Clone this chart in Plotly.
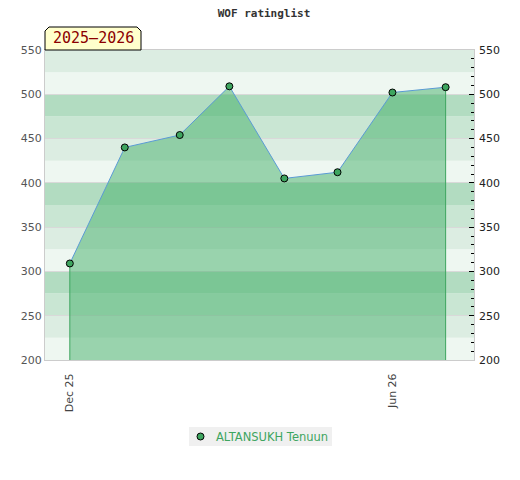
import plotly.graph_objects as go

title = "WOF ratinglist"
season = "2025\u20132026"
player = "ALTANSUKH Tenuun"
dates = ["2025-12-01", "2026-01-01", "2026-02-01", "2026-03-01",
         "2026-04-01", "2026-05-01", "2026-06-01", "2026-07-01"]
ratings = [309, 440, 454, 509, 405, 412, 502, 508]
tick_dates = ["2025-12-01", "2026-06-01"]
tick_labels = ["Dec 25", "Jun 26"]
y_min, y_max = 200, 550
x_range = ["2025-11-17", "2026-07-17"]

band_colors = ["#eef7f1", "#dcede2", "#c9e6d3", "#b2dcc1"]
green = "#3ea55f"

fig = go.Figure()

# filled area
fig.add_trace(go.Scatter(x=dates, y=ratings, fill="tozeroy",
                         fillcolor="rgba(68,175,105,0.5)",
                         line=dict(width=0), mode="lines",
                         showlegend=False, hoverinfo="skip"))
# vertical edges
fig.add_trace(go.Scatter(x=[dates[0], dates[0], None, dates[-1], dates[-1]],
                         y=[y_min, ratings[0], None, y_min, ratings[-1]],
                         mode="lines", line=dict(color=green, width=1),
                         showlegend=False, hoverinfo="skip"))
# line
fig.add_trace(go.Scatter(x=dates, y=ratings, mode="lines",
                         line=dict(color="#5b9bd5", width=1),
                         showlegend=False, hoverinfo="skip"))
# markers
fig.add_trace(go.Scatter(x=dates, y=ratings, mode="markers", name=player,
                         showlegend=False,
                         marker=dict(color=green, size=7,
                                     line=dict(color="black", width=1))))
# invisible trace for right axis
fig.add_trace(go.Scatter(x=dates, y=ratings, yaxis="y2", mode="lines",
                         line=dict(width=0), showlegend=False, hoverinfo="skip",
                         opacity=0))

shapes = []
for i, lo in enumerate(range(y_min, y_max, 25)):
    shapes.append(dict(type="rect", xref="paper", yref="y", x0=0, x1=1,
                       y0=lo, y1=lo + 25, fillcolor=band_colors[i % 4],
                       line=dict(width=0), layer="below"))
# season label box
shapes.append(dict(type="path", xref="paper", yref="paper",
                   xsizemode="pixel", ysizemode="pixel", xanchor=0, yanchor=1,
                   path="M0,0 L0,19 L4,23 L92,23 L96,19 L96,0 Z",
                   fillcolor="#ffffcc", line=dict(color="black", width=1),
                   layer="above"))
# legend box and symbol
shapes.append(dict(type="rect", xref="paper", yref="paper",
                   xsizemode="pixel", ysizemode="pixel", xanchor=0, yanchor=0,
                   x0=144, x1=287, y0=-86, y1=-67, fillcolor="#f0f0f0",
                   line=dict(width=0), layer="below"))
shapes.append(dict(type="circle", xref="paper", yref="paper",
                   xsizemode="pixel", ysizemode="pixel", xanchor=0, yanchor=0,
                   x0=152, x1=159, y0=-80, y1=-73, fillcolor=green,
                   line=dict(color="black", width=1), layer="above"))

fig.update_layout(
    width=512, height=472,
    margin=dict(l=37, r=46, t=42, b=120, autoexpand=False),
    paper_bgcolor="white", plot_bgcolor="white",
    title=dict(text="<b>" + title + "</b>", x=0.5, xanchor="center",
               y=1 - 5 / 472, yanchor="middle",
               font=dict(family="DejaVu Sans Mono", size=11, color="#333")),
    shapes=shapes,
    annotations=[
        dict(text=season, xref="paper", yref="paper",
             x=48 / 429, y=1 + 12 / 310, xanchor="center",
             yanchor="middle", showarrow=False,
             font=dict(family="DejaVu Sans Mono", size=15, color="#8b0000")),
        dict(text=player, xref="paper", yref="paper",
             x=169 / 429, y=-76.5 / 310, xanchor="left", yanchor="middle",
             showarrow=False,
             font=dict(family="DejaVu Sans", size=11.5, color=green)),
    ],
    xaxis=dict(type="date", range=x_range, tickvals=tick_dates,
               ticktext=tick_labels, tickangle=-90, automargin=False,
               ticklabelstandoff=8,
               tickfont=dict(family="DejaVu Sans", size=11, color="#444"),
               showgrid=False, showline=True, linecolor="#cccccc",
               mirror=True, zeroline=False, ticks=""),
    yaxis=dict(range=[y_min, y_max], dtick=50, showgrid=True,
               gridcolor="#d9d9d9", gridwidth=1, automargin=False,
               tickfont=dict(family="DejaVu Sans", size=11, color="#555"),
               showline=True, linecolor="#cccccc", mirror=True,
               zeroline=False, ticks=""),
    yaxis2=dict(range=[y_min, y_max], dtick=50, overlaying="y", side="right",
                showgrid=False, zeroline=False, automargin=False,
                ticklabelstandoff=4,
                tickfont=dict(family="DejaVu Sans", size=11, color="#222"),
                ticks="inside", ticklen=5, tickcolor="black",
                minor=dict(ticks="inside", dtick=10, ticklen=3,
                           tickcolor="black")),
    showlegend=False,
)

fig.write_html("out.html")
